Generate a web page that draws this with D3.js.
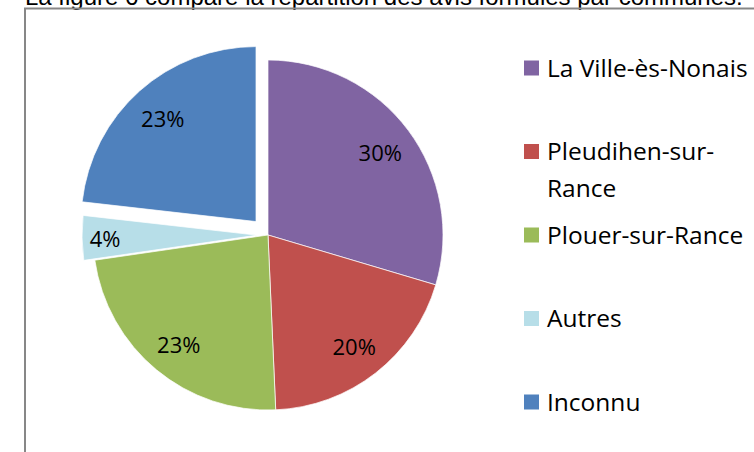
<!DOCTYPE html>
<html>
<head>
<meta charset="utf-8">
<script src="https://cdn.jsdelivr.net/npm/d3@7"></script>
<style>
  body { margin: 0; background: #fff; }
  svg { display: block; }
</style>
</head>
<body>
<div id="chart"></div>
<script>
// parts of the opinions by commune (percent)
const COMMUNES = ['La Ville-ès-Nonais', 'Pleudihen-sur-Rance', 'Plouer-sur-Rance', 'Autres', 'Inconnu'];
const PARTS = [29.6, 19.7, 23.4, 4.1, 23.2];
const COLORS = ['#8064A2', '#C0504D', '#9BBB59', '#B7DEE8', '#4F81BD'];
const EXPLODE = [0, 0, 0, 11, 18];
// legend lines (Pleudihen wraps on two lines)
const LEGEND_LINES = [['La Ville-ès-Nonais'], ['Pleudihen-sur-', 'Rance'], ['Plouer-sur-Rance'], ['Autres'], ['Inconnu']];

var width = 754, height = 452;
var cx = 268, cy = 235, radius = 175;

var svg = d3.select("#chart")
            .append("svg")
              .attr("width", width)
              .attr("height", height);

// caption line above the frame, mostly cut off
svg.append("text")
   .attr("x", 25)
   .attr("y", 5)
   .style("font-family", "'Liberation Sans', Arial, sans-serif")
   .style("font-size", "24px")
   .style("fill", "#000")
   .text("La figure 6 compare la répartition des avis formulés par communes.");

// chart frame
svg.append("path")
   .attr("d", "M25,452 V8.5 H760")
   .style("fill", "none")
   .style("stroke", "#878787")
   .style("stroke-width", 2);

var pie = d3.pie().sort(null).value(function(d) { return d; });
var arcs = pie(PARTS);

var arc = d3.arc().innerRadius(0).outerRadius(radius);
var labelArc = d3.arc().innerRadius(140).outerRadius(140);

var g = svg.append("g")
           .attr("transform", "translate(" + cx + "," + cy + ")");

function offset(d, i) {
  var a = (d.startAngle + d.endAngle) / 2;
  return "translate(" + (Math.sin(a) * EXPLODE[i]) + "," + (-Math.cos(a) * EXPLODE[i]) + ")";
}

var slices = g.selectAll("g.slice")
    .data(arcs)
    .enter().append("g")
      .attr("class", "slice")
      .attr("transform", offset);

slices.append("path")
    .attr("d", arc)
    .style("fill", function(d, i) { return COLORS[i]; })
    .style("stroke", "#fff")
    .style("stroke-width", 0.7);

slices.append("text")
    .attr("transform", function(d, i) {
      var c = labelArc.centroid(d);
      if (i === 3) { c = d3.arc().innerRadius(152).outerRadius(152).centroid(d); }
      return "translate(" + c + ")";
    })
    .attr("dy", "0.45em")
    .style("text-anchor", "middle")
    .style("font-family", "'Open Sans', sans-serif")
    .style("font-size", "22px")
    .style("fill", "#000")
    .text(function(d) { return Math.round(d.data) + "%"; });

// legend
var legendY = d3.scalePoint()
                .domain(COMMUNES)
                .range([68, 402]);

var legend = svg.selectAll("g.legend")
    .data(COMMUNES)
    .enter().append("g")
      .attr("class", "legend")
      .attr("transform", function(d) { return "translate(524," + legendY(d) + ")"; });

legend.append("rect")
    .attr("x", 0)
    .attr("y", -7.5)
    .attr("width", 15)
    .attr("height", 15)
    .style("fill", function(d, i) { return COLORS[i]; });

legend.append("text")
    .attr("x", 23)
    .attr("y", 0)
    .style("font-family", "'Open Sans', sans-serif")
    .style("font-size", "24.5px")
    .style("fill", "#000")
    .selectAll("tspan")
    .data(function(d, i) { return LEGEND_LINES[i]; })
    .enter().append("tspan")
      .attr("x", 23)
      .attr("dy", function(d, j) { return j === 0 ? "0.35em" : "1.5em"; })
      .text(function(d) { return d; });
</script>
</body>
</html>
